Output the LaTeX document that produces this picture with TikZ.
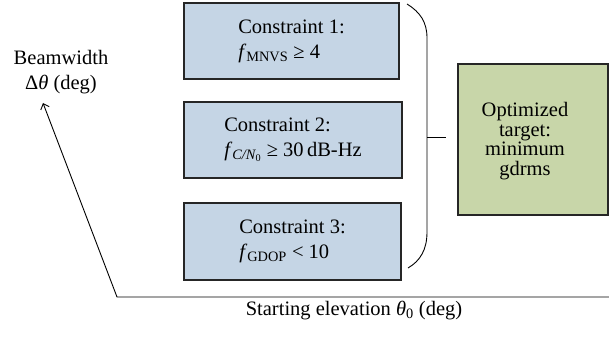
\documentclass[tikz,border=0pt]{standalone}
\usepackage{fontspec}
\setmainfont{Liberation Serif}
\usepackage{amsmath}
\usetikzlibrary{arrows.meta}
\definecolor{cblue}{RGB}{197,213,229}
\definecolor{cgreen}{RGB}{200,214,169}
\begin{document}
\begin{tikzpicture}[x=1pt,y=-1pt,
  font=\fontsize{20.5}{25}\selectfont,
  cbox/.style={draw=black!85, line width=1.2pt, fill=cblue, align=left, inner sep=0pt},
  gbox/.style={draw=black!85, line width=1.2pt, fill=cgreen, inner sep=0pt},
  conn/.style={line width=0.9pt, draw=black},
  lbl/.style={inner sep=0pt, align=center}]
\useasboundingbox (0,0) rectangle (609,339);
\node[cbox, minimum width=215pt, minimum height=76pt] (c1) at (291.5,41)
  {Constraint 1:\\ \textit{f}$_{\text{MNVS}}$ ≥ 4};
\node[cbox, minimum width=218pt, minimum height=76pt] (c2) at (293,140)
  {Constraint 2:\\ \textit{f}$_{\textit{C/N}_{\text{0}}}$ ≥ 30\,dB-Hz};
\node[cbox, minimum width=217pt, minimum height=77pt] (c3) at (292.5,241.5)
  {Constraint 3:\\ \textit{f}$_{\text{GDOP}}$ < 10};
\node[gbox, minimum width=150pt, minimum height=151pt] (g) at (533,139.5) {};
\node[lbl, font=\fontsize{20.5}{19.5}\selectfont] (gt) at (525,141) {Optimized\\target:\\minimum\\gdrms};
% bracket
\coordinate (bt) at (407,4);
\coordinate (bb) at (408,268);
\coordinate (bm) at (427,137);
\coordinate (bx) at (446,137);
\draw[conn] (bt) .. controls (420,12) and (427,22) .. (427,38) -- (427,232)
  .. controls (427,250) and (420,261) .. (bb);
\draw[conn] (bm) -- (bx);
% axes
\coordinate (O) at (117,297);
\coordinate (Y) at (43,103);
\coordinate (X) at (609,297);
\draw[conn, -{Straight Barb[length=5pt,width=9pt]}] (X) -- (O) -- (Y);
\node[lbl] (yl) at (61,72) {Beamwidth\\Δ\textit{θ} (deg)};
\node[lbl, anchor=base] (xl) at (354,315) {Starting elevation \textit{θ}$_{\text{0}}$ (deg)};
\end{tikzpicture}
\end{document}
